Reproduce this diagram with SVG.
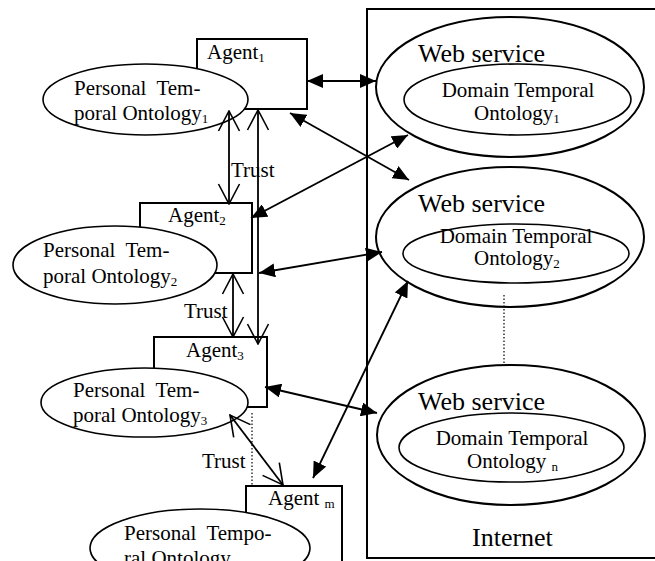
<svg xmlns="http://www.w3.org/2000/svg" width="655" height="561" viewBox="0 0 655 561" font-family="'Liberation Serif', 'Times New Roman', serif">
<defs>
<style>
text{font-family:'Liberation Serif','Times New Roman',serif;fill:#000}
.t21{font-size:21px}
.t26{font-size:26px}
.sub{font-size:13px}
.box{fill:#fff;stroke:#000;stroke-width:2}
.pe{fill:#fff;stroke:#000;stroke-width:1.6}
.wo{fill:#fff;stroke:#000;stroke-width:2}
.wi{fill:none;stroke:#000;stroke-width:1.6}
.ln{stroke:#000;stroke-width:1.8;fill:none}
.fa{marker-start:url(#fa);marker-end:url(#fa)}
.oa{marker-start:url(#oa);marker-end:url(#oa)}
.dot{stroke:#000;stroke-width:1.2;stroke-dasharray:1.5 2;fill:none}
</style>
<marker id="fa" viewBox="0 0 16 14" refX="16" refY="7" markerWidth="16" markerHeight="14" orient="auto-start-reverse" markerUnits="userSpaceOnUse"><path d="M0,0 L16,7 L0,14 z" fill="#000"/></marker>
<marker id="oa" viewBox="0 0 22 24" refX="21" refY="12" markerWidth="22" markerHeight="24" orient="auto-start-reverse" markerUnits="userSpaceOnUse"><path d="M1,1.5 L21,12 L1,22.5" fill="none" stroke="#000" stroke-width="1.6"/></marker>
</defs>
<rect width="655" height="561" fill="#fff"/>

<g id="internet">
<rect x="367" y="9" width="300" height="549" fill="#fff" stroke="#000" stroke-width="2"/>
<text class="t26" x="472" y="546" font-family="Liberation Serif">Internet</text>
</g>

<g id="ws1">
<ellipse class="wo" cx="510" cy="87" rx="134" ry="70"/>
<text class="t26" x="418" y="62" font-family="Liberation Serif">Web service</text>
<ellipse class="wi" cx="517.5" cy="99.5" rx="113.5" ry="35.5"/>
<text class="t21" x="518" y="97" text-anchor="middle" font-family="Liberation Serif">Domain Temporal</text>
<text class="t21" x="474" y="120" font-family="Liberation Serif">Ontology<tspan class="sub" dy="3">1</tspan></text>
</g>

<g id="ws2">
<ellipse class="wo" cx="510" cy="237" rx="134" ry="70"/>
<text class="t26" x="418" y="212" font-family="Liberation Serif">Web service</text>
<ellipse class="wi" cx="516" cy="253.5" rx="113" ry="29.5"/>
<text class="t21" x="516" y="243" text-anchor="middle" font-family="Liberation Serif">Domain Temporal</text>
<text class="t21" x="474" y="265" font-family="Liberation Serif">Ontology<tspan class="sub" dy="3">2</tspan></text>
</g>

<g id="wsn">
<ellipse class="wo" cx="511" cy="435" rx="134" ry="70"/>
<text class="t26" x="418" y="410" font-family="Liberation Serif">Web service</text>
<ellipse class="wi" cx="511.5" cy="447.5" rx="112.5" ry="34.5"/>
<text class="t21" x="512" y="445" text-anchor="middle" font-family="Liberation Serif">Domain Temporal</text>
<text class="t21" x="467" y="468" font-family="Liberation Serif">Ontology <tspan class="sub" dy="3">n</tspan></text>
</g>

<g id="agent1">
<rect class="box" x="197" y="39" width="110" height="70"/>
<text class="t21" x="207" y="59" font-family="Liberation Serif">Agent<tspan class="sub" dy="3">1</tspan></text>
</g>
<g id="pto1">
<ellipse class="pe" cx="145.5" cy="99.5" rx="102.5" ry="35.5"/>
<text class="t21" x="74" y="95" xml:space="preserve" font-family="Liberation Serif">Personal  Tem-</text>
<text class="t21" x="74" y="120" font-family="Liberation Serif">poral Ontology<tspan class="sub" dy="3">1</tspan></text>
</g>

<g id="agent2">
<rect class="box" x="140" y="203" width="112" height="70"/>
<text class="t21" x="168" y="222" font-family="Liberation Serif">Agent<tspan class="sub" dy="3">2</tspan></text>
</g>
<g id="pto2">
<ellipse class="pe" cx="115" cy="265" rx="102" ry="39"/>
<text class="t21" x="43" y="257" xml:space="preserve" font-family="Liberation Serif">Personal  Tem-</text>
<text class="t21" x="43" y="283" font-family="Liberation Serif">poral Ontology<tspan class="sub" dy="3">2</tspan></text>
</g>

<g id="agent3">
<rect class="box" x="154" y="337" width="113" height="70"/>
<text class="t21" x="186" y="357" font-family="Liberation Serif">Agent<tspan class="sub" dy="3">3</tspan></text>
</g>
<g id="pto3">
<ellipse class="pe" cx="144.5" cy="402.5" rx="103.5" ry="34.5"/>
<text class="t21" x="73" y="397" xml:space="preserve" font-family="Liberation Serif">Personal  Tem-</text>
<text class="t21" x="73" y="422" font-family="Liberation Serif">poral Ontology<tspan class="sub" dy="3">3</tspan></text>
</g>

<g id="agentm">
<rect class="box" x="246" y="486" width="96" height="90"/>
<text class="t21" x="268" y="505" font-family="Liberation Serif">Agent <tspan class="sub" dy="3">m</tspan></text>
</g>
<g id="ptom">
<ellipse class="pe" cx="200" cy="548" rx="110" ry="39"/>
<text class="t21" x="124" y="540" xml:space="preserve" font-family="Liberation Serif">Personal  Tempo-</text>
<text class="t21" x="124" y="565" font-family="Liberation Serif">ral Ontology</text>
</g>

<g id="connectors">
<line class="ln fa" x1="307" y1="81" x2="376" y2="81"/>
<line class="ln fa" x1="290" y1="113" x2="409" y2="180"/>
<line class="ln fa" x1="251" y1="218" x2="408" y2="135"/>
<line class="ln fa" x1="259" y1="273" x2="382" y2="252"/>
<line class="ln fa" x1="265" y1="387" x2="377" y2="413"/>
<line class="ln fa" x1="313" y1="478" x2="408" y2="281"/>
<line class="ln oa" x1="229" y1="111" x2="229" y2="204"/>
<line class="ln oa" x1="258" y1="110" x2="258" y2="344"/>
<line class="ln oa" x1="233" y1="274" x2="233" y2="337"/>
<line class="ln oa" x1="230" y1="415" x2="283" y2="485"/>
<line class="dot" x1="252" y1="413" x2="252" y2="485"/>
<line class="dot" x1="504" y1="295" x2="504" y2="363"/>
<text class="t21" x="231" y="177" font-family="Liberation Serif">Trust</text>
<text class="t21" x="184" y="318" font-family="Liberation Serif">Trust</text>
<text class="t21" x="202" y="468" font-family="Liberation Serif">Trust</text>
</g>
</svg>
